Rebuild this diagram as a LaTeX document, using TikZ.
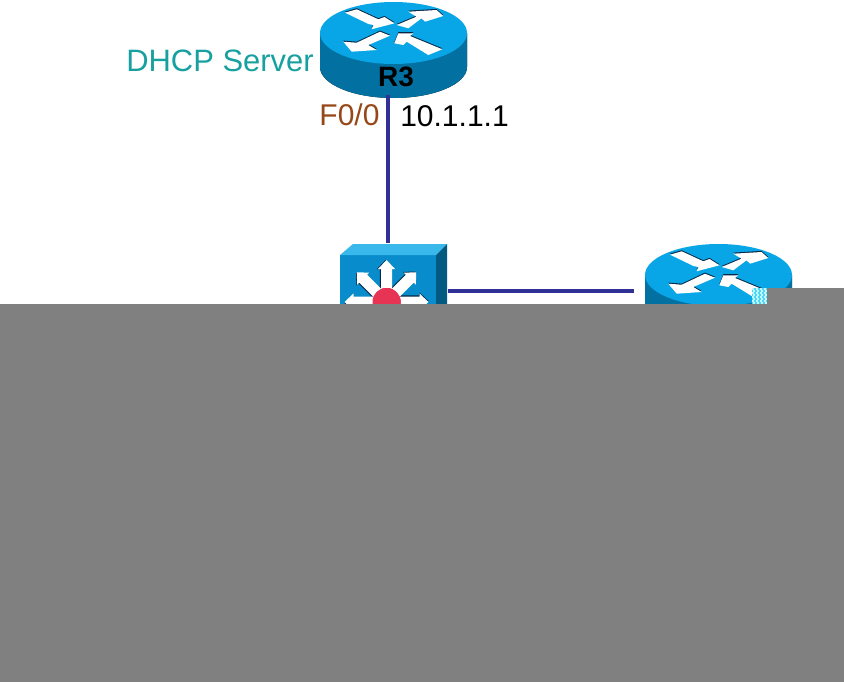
\documentclass[tikz,border=0pt]{standalone}
\usepackage{fontspec}
\setmainfont{Liberation Sans}
\usepackage{xcolor}
\usetikzlibrary{arrows.meta,positioning,calc}

\definecolor{topblue}{RGB}{8,166,230}
\definecolor{faceblue}{RGB}{8,140,204}
\definecolor{sideblue}{RGB}{6,140,190}
\definecolor{sidedark}{RGB}{2,112,160}
\definecolor{shadowblue}{RGB}{6,40,70}
\definecolor{linkblue}{RGB}{48,48,150}
\definecolor{labelteal}{RGB}{24,160,160}
\definecolor{portbrown}{RGB}{150,72,24}
\definecolor{covergray}{RGB}{128,128,128}
\definecolor{hubred}{RGB}{232,52,84}
\definecolor{dithercyan}{RGB}{70,218,246}

% white blade with a dark edge along its upper side
\newcommand{\blade}[1]{%
  \fill[shadowblue,yshift=0.8pt] #1;
  \fill[white] #1;}

\tikzset{
  anchorbox/.style={inner sep=0pt,outer sep=0pt},
  link/.style={draw=linkblue,line width=3.2pt},
  tag/.style={font=\fontsize{22.5pt}{24pt}\selectfont,inner sep=0pt},
  pics/routericon/.style={code={
    % body and top disc
    \fill[left color=sidedark,middle color=sideblue,right color=sidedark]
      (-73.5,0) -- (-73.5,34) arc[start angle=180,end angle=0,x radius=73.5,y radius=31]
      -- (73.5,0) -- cycle;
    \fill[topblue] (0,0) ellipse[x radius=73.5,y radius=31];
    % four arrows on the disc
    \blade{(-48.5,-20.3) -- (-36.8,-23.7) -- (-15.2,-13.7) -- (-9,-16) -- (1,-9.7)
      -- (-22,-3.7) -- (-20,-8) -- (-25,-9) -- cycle}
    \blade{(3.2,-8) -- (23,-16.3) -- (14.8,-21.3) -- (43,-23) -- (49.8,-17)
      -- (31.5,-11.3) -- (28,-14.7) -- (14.8,-4.7) -- cycle}
    \blade{(-50.2,8.7) -- (-36.8,9.7) -- (-13.5,-1.3) -- (-3.5,2.7) -- (-25.2,12)
      -- (-16.8,17) -- (-41.8,18.7) -- cycle}
    \blade{(0.8,10.3) -- (4.8,0.3) -- (19.8,0.3) -- (16.5,3) -- (48.8,16.3)
      -- (34.8,22) -- (13.2,8.7) -- (9.8,12) -- cycle}
  }},
  pics/switchicon/.style={code={
    % front, top and side faces
    \fill[faceblue] (-48,-36) rectangle (48,60);
    \fill[topblue!80!white] (-48,-36) -- (-35,-47) -- (59,-47) -- (48,-36) -- cycle;
    \fill[sidedark!80!black] (48,-36) -- (59,-47) -- (59,49) -- (48,60) -- cycle;
    % spokes round the hub
    \foreach \a in {0,45,90,135,180}
      \begin{scope}[shift={(-1.5,11)},rotate=\a]
        \blade{(8,-5.5) -- (33,-5.5) -- (33,-8.5) -- (42,0) -- (33,8.5) -- (33,5.5) -- (8,5.5) -- cycle}
      \end{scope}
    \fill[hubred] (-1.5,11) circle[radius=14];
  }},
}

\begin{document}
\begin{tikzpicture}[x=0.75pt,y=-0.75pt]
  \useasboundingbox (0,0) rectangle (844,682);

  % Devices
  \node[anchorbox,minimum width=110.25pt,minimum height=69.75pt] (r3) at (388,48.5) {};
  \node[anchorbox,minimum width=90pt,minimum height=72pt,below=111pt of r3] (sw) {};
  \node[anchorbox,minimum width=118.5pt,minimum height=72pt,right=139.5pt of sw] (r2) {};
  \pic at ($(r3)+(5.5,-15.5)$) {routericon};
  \pic at ($(r2)+(5.5,-16)$) {routericon};
  \pic at (sw) {switchicon};

  % Links
  \draw[link] (r3.south) -- (sw.north);
  \draw[link] (sw.east) -- (r2.west);

  % Lower cover band
  \fill[covergray] (0,304) rectangle (844,682);
  \fill[covergray] (767,288) rectangle (844,304);
  \fill[dithercyan] (752,288) rectangle (767,304);
  \foreach \i in {752,756,...,764}
    \foreach \j in {288,292,...,300} {
      \fill[white!70!dithercyan] (\i,\j) rectangle +(2,2);
      \fill[white!70!dithercyan] (\i+1,\j+2) rectangle +(2,2);
    }

  % Labels
  \node[tag,font=\fontsize{23.2pt}{24pt}\selectfont,text=labelteal] (r3role) at (220,61) {DHCP Server};
  \node[tag,text=portbrown] (r3port) at (349.5,115) {F0/0};
  \node[tag] (r3addr) at (454.5,116) {10.1.1.1};
  \node[tag,font=\fontsize{21pt}{24pt}\selectfont\bfseries,text=black] (r3name) at (396,77) {R3};
\end{tikzpicture}
\end{document}
